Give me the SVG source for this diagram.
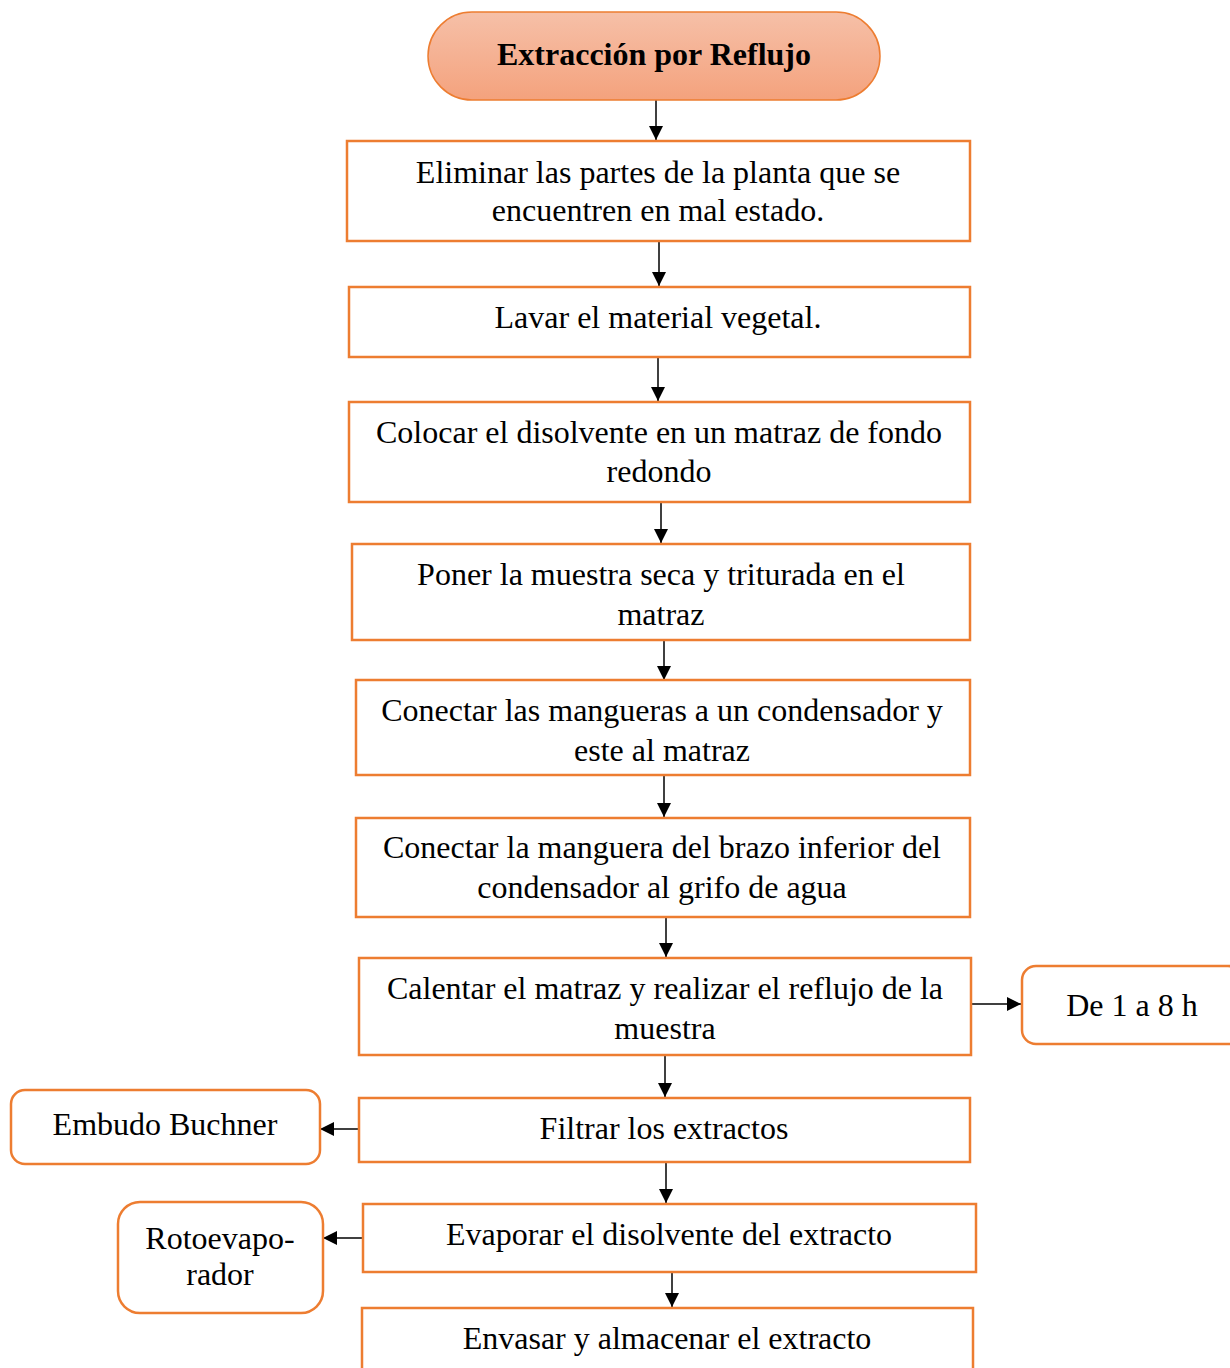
<svg xmlns="http://www.w3.org/2000/svg" width="1230" height="1368" viewBox="0 0 1230 1368">
  <defs>
    <linearGradient id="gStart" x1="0" y1="0" x2="0" y2="1">
      <stop offset="0" stop-color="#f6c0a8"/>
      <stop offset="1" stop-color="#f4a27d"/>
    </linearGradient>
    <marker id="arrowBig" viewBox="0 0 14 14" refX="14" refY="7" markerWidth="14" markerHeight="14" markerUnits="userSpaceOnUse" orient="auto">
      <path d="M0,0 L14,7 L0,14 Z" fill="#000"/>
    </marker>
  </defs>
  <style>
    .box { fill: #fff; stroke: #ed7d31; stroke-width: 2.5; }
    .t { font-family: "Liberation Serif", "Times New Roman", serif; font-size: 32px; fill: #000; text-anchor: middle; }
    .title { font-weight: bold; }
    .conn line { stroke: #000; stroke-width: 1.5; marker-end: url(#arrowBig); }
  </style>
  <rect width="1230" height="1368" fill="#fff"/>

  <g id="connectors" class="conn">
    <line x1="656" y1="100" x2="656" y2="140"/>
    <line x1="659" y1="242" x2="659" y2="286"/>
    <line x1="658" y1="358" x2="658" y2="401"/>
    <line x1="661" y1="503" x2="661" y2="543"/>
    <line x1="664" y1="641" x2="664" y2="680"/>
    <line x1="664" y1="776" x2="664" y2="817"/>
    <line x1="666" y1="918" x2="666" y2="957"/>
    <line x1="972" y1="1004" x2="1021" y2="1004"/>
    <line x1="665" y1="1056" x2="665" y2="1097"/>
    <line x1="358" y1="1129" x2="320" y2="1129"/>
    <line x1="666" y1="1163" x2="666" y2="1203"/>
    <line x1="362" y1="1238" x2="323" y2="1238"/>
    <line x1="672" y1="1273" x2="672" y2="1307"/>
  </g>

  <g id="start">
    <rect x="428" y="12" width="452" height="88" rx="44" ry="44" fill="url(#gStart)" stroke="#ed7d31" stroke-width="1.5"/>
    <text class="t title" x="654" y="65">Extracción por Reflujo</text>
  </g>

  <g id="step1">
    <rect class="box" x="347" y="141" width="623" height="100"/>
    <text class="t" x="658" y="183">Eliminar las partes de la planta que se</text>
    <text class="t" x="658" y="221">encuentren en mal estado.</text>
  </g>

  <g id="step2">
    <rect class="box" x="349" y="287" width="621" height="70"/>
    <text class="t" x="658" y="328">Lavar el material vegetal.</text>
  </g>

  <g id="step3">
    <rect class="box" x="349" y="402" width="621" height="100"/>
    <text class="t" x="659" y="443">Colocar el disolvente en un matraz de fondo</text>
    <text class="t" x="659" y="482">redondo</text>
  </g>

  <g id="step4">
    <rect class="box" x="352" y="544" width="618" height="96"/>
    <text class="t" x="661" y="585">Poner la muestra seca y triturada en el</text>
    <text class="t" x="661" y="625">matraz</text>
  </g>

  <g id="step5">
    <rect class="box" x="356" y="680" width="614" height="95"/>
    <text class="t" x="662" y="721">Conectar las mangueras a un condensador y</text>
    <text class="t" x="662" y="761">este al matraz</text>
  </g>

  <g id="step6">
    <rect class="box" x="356" y="818" width="614" height="99"/>
    <text class="t" x="662" y="858">Conectar la manguera del brazo inferior del</text>
    <text class="t" x="662" y="898">condensador al grifo de agua</text>
  </g>

  <g id="step7">
    <rect class="box" x="359" y="958" width="612" height="97"/>
    <text class="t" x="665" y="999">Calentar el matraz y realizar el reflujo de la</text>
    <text class="t" x="665" y="1039">muestra</text>
  </g>

  <g id="duration">
    <rect class="box" x="1022" y="966" width="220" height="78" rx="14" ry="14"/>
    <text class="t" x="1132" y="1016">De 1 a 8 h</text>
  </g>

  <g id="step8">
    <rect class="box" x="359" y="1098" width="611" height="64"/>
    <text class="t" x="664" y="1139">Filtrar los extractos</text>
  </g>

  <g id="buchner">
    <rect class="box" x="11" y="1090" width="309" height="74" rx="14" ry="14"/>
    <text class="t" x="165" y="1135">Embudo Buchner</text>
  </g>

  <g id="step9">
    <rect class="box" x="363" y="1204" width="613" height="68"/>
    <text class="t" x="669" y="1245">Evaporar el disolvente del extracto</text>
  </g>

  <g id="rotavap">
    <rect class="box" x="118" y="1202" width="205" height="111" rx="22" ry="22"/>
    <text class="t" x="220" y="1249">Rotoevapo-</text>
    <text class="t" x="220" y="1285">rador</text>
  </g>

  <g id="step10">
    <rect class="box" x="362" y="1308" width="611" height="80"/>
    <text class="t" x="667" y="1349">Envasar y almacenar el extracto</text>
  </g>
</svg>
